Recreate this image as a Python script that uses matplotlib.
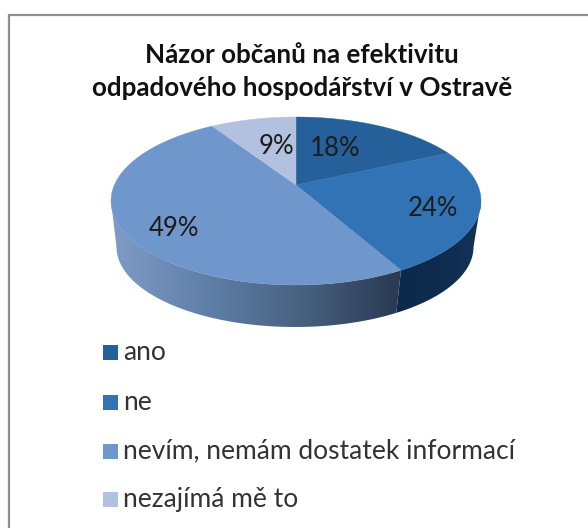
import numpy as np
import matplotlib
matplotlib.use("Agg")
import matplotlib.pyplot as plt
from matplotlib.patches import Polygon, Rectangle
from matplotlib.colors import LinearSegmentedColormap

# data
title_lines = ["Názor občanů na efektivitu", "odpadového hospodářství v Ostravě"]
categories = ["ano", "ne", "nevím, nemám dostatek informací", "nezajímá mě to"]
values = [18, 24, 49, 9]
value_labels = ["18%", "24%", "49%", "9%"]
colors = ["#25609A", "#3273B5", "#7097CC", "#B1C1DF"]

# layout (pixels)
W, H = 588, 528
CX, CY, RX, RY = 296, 201, 185, 84
BCX, BCY, BRX, BRY = 295, 247, 178.5, 80
APEX = 0.19  # perspective shift of the pie centre
label_xy = [(335, 148), (433, 208), (174, 229), (276, 146)]
legend_y = [352, 402, 451, 499]

plt.rcParams["font.family"] = ["Lato", "DejaVu Sans"]
fig = plt.figure(figsize=(W / 100, H / 100), dpi=100, facecolor="white")
ax = fig.add_axes([0, 0, 1, 1])


def project(theta):
    """Clockwise angle from 12 o'clock -> perspective unit-disc point."""
    x, y = np.sin(theta), np.cos(theta)
    d = 1 + APEX * y
    return x * np.sqrt(1 - APEX**2) / d, (y + APEX) / d


def rim(theta, cx, cy, rx, ry):
    x, y = project(theta)
    return np.column_stack([cx + rx * x, cy - ry * y])


edges = np.concatenate([[0], np.cumsum(values)]) / np.sum(values) * 2 * np.pi

# frame
ax.add_patch(Rectangle((9, 15), W + 20, H + 20, fc="white", ec="#8E8E8E", lw=1.6))

# side walls with horizontal gradients (only the front half of the rim is visible)
wall_maps = {
    1: ((396, 482), ["#0C2A4C", "#0E2C4E", "#12345A"]),
    2: ((112, 402), ["#7F9CC6", "#5F7FA8", "#46607F", "#2A3850"]),
}
for i, ((x0, x1), cols) in wall_maps.items():
    t = np.linspace(edges[i], edges[i + 1], 600)
    t = t[project(t)[1] <= 0]
    pts = np.vstack([rim(t, CX, CY, RX, RY), rim(t[::-1], BCX, BCY, BRX, BRY)])
    poly = Polygon(pts, closed=True, fc="none", ec="none", transform=ax.transData)
    ax.add_patch(poly)
    cmap = LinearSegmentedColormap.from_list("w", cols)
    im = ax.imshow(np.linspace(0, 1, 256)[None, :], cmap=cmap, aspect="auto",
                   extent=(x0, x1, 340, 180), zorder=2, interpolation="bilinear")
    im.set_clip_path(poly)

# top surface
for i, c in enumerate(colors):
    t = np.linspace(edges[i], edges[i + 1], 200)
    rp = rim(t, CX, CY, RX, RY)
    apex = [CX, CY - RY * APEX]
    ax.add_patch(Polygon(np.vstack([[apex], rp]), closed=True, fc=c, ec=c, lw=0.3, zorder=3))

# value labels
for (x, y), s in zip(label_xy, value_labels):
    ax.text(x, y, s, ha="center", va="center", fontsize=18.5, color="#1C1C1C", zorder=4)

# title
ax.text(302, 55, title_lines[0], ha="center", va="center", fontsize=18.7,
        fontweight="bold", color="#111111", zorder=4)
ax.text(302, 88, title_lines[1], ha="center", va="center", fontsize=18.7,
        fontweight="bold", color="#111111", zorder=4)

# legend
for y, c, s in zip(legend_y, colors, categories):
    ax.add_patch(Rectangle((103, y - 7.5), 14.5, 15, fc=c, ec="none", zorder=4))
    ax.text(123, y, s, ha="left", va="center", fontsize=19, color="#333333", zorder=4)

ax.set_xlim(0, W)
ax.set_ylim(H, 0)
ax.axis("off")
fig.savefig("out.png", dpi=100, facecolor="white")
